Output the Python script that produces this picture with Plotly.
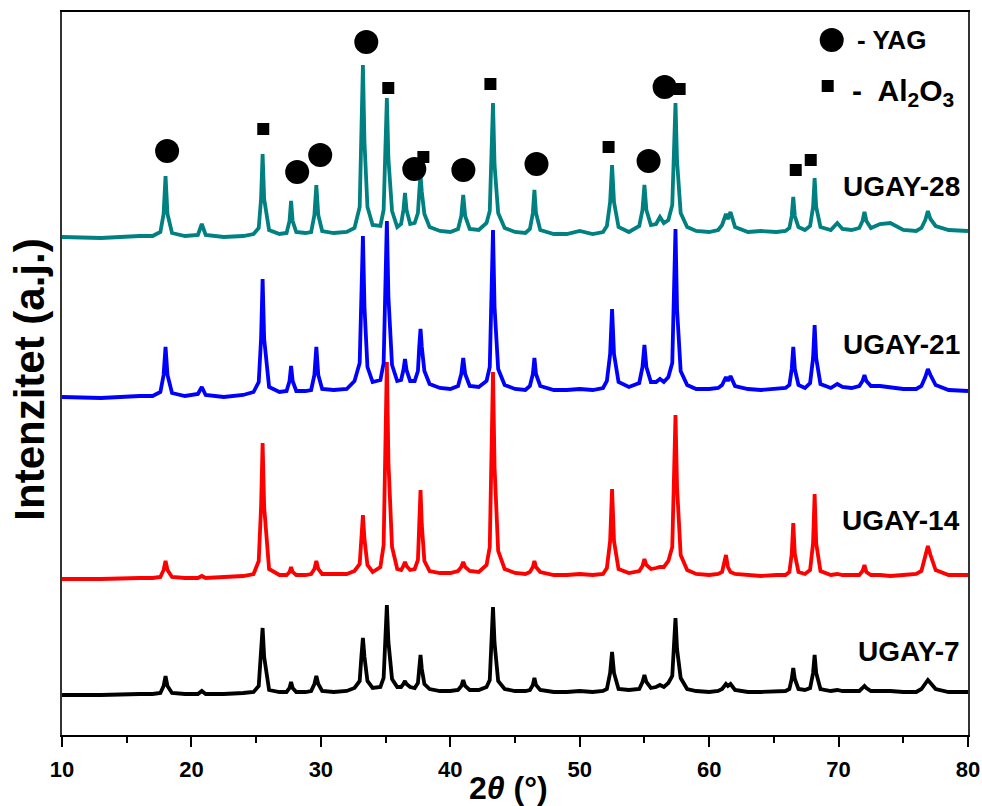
import plotly.graph_objects as go

# 2theta grid, grouped peak by peak
two_theta = [
    10, 13, 16, 17.0,
    17.6, 17.85, 18.0, 18.15, 18.5,
    19.5, 20.5, 20.8, 21.1, 22.5, 24.0,
    24.8, 25.2, 25.38, 25.5, 25.62, 26.0,
    26.8,
    27.35, 27.58, 27.7, 27.82, 28.1,
    28.8,
    29.25, 29.5, 29.65, 29.8, 30.1,
    31.0, 32.0,
    32.6, 33.0, 33.13, 33.25, 33.37, 33.6, 34.0,
    34.6, 34.85, 34.98, 35.1, 35.22, 35.5, 35.9,
    36.2, 36.38, 36.5, 36.62, 36.9,
    37.25, 37.5, 37.6, 37.7, 37.8, 38.0, 38.4,
    39.2, 40.0,
    40.6, 40.85, 41.0, 41.15, 41.5,
    42.2,
    42.8, 43.05, 43.18, 43.3, 43.42, 43.7, 44.2,
    45.0, 45.8,
    46.15, 46.38, 46.5, 46.62, 46.95,
    48.0, 49.0, 50.0, 51.0, 51.8,
    52.1, 52.35, 52.5, 52.65, 53.0,
    53.8,
    54.6, 54.85, 55.0, 55.15, 55.5,
    55.9, 56.2, 56.5,
    56.85, 57.15, 57.28, 57.4, 57.52, 57.8, 58.3,
    59.0, 60.0, 60.7,
    61.0, 61.3, 61.45, 61.65, 62.0,
    63.0, 64.0, 65.2, 65.9,
    66.2, 66.38, 66.5, 66.62, 66.9,
    67.4,
    67.8, 68.03, 68.15, 68.27, 68.6,
    69.4, 69.9, 70.3, 71.0,
    71.6, 71.85, 72.0, 72.15, 72.5,
    73.2, 74.0, 75.0, 76.0,
    76.4, 76.7, 76.9, 77.1, 77.5,
    78.5, 79.3, 80.0,
]

# intensities (offset, arbitrary units)
ugay_28 = [
    500, 499, 501, 501,
    505, 523, 561, 523, 504,
    501, 502, 513, 502, 500, 501,
    503, 509, 538, 583, 538, 507,
    503,
    504, 516, 536, 516, 505,
    504,
    505, 522, 552, 522, 506,
    504, 505,
    509, 530, 595, 672, 595, 530, 512,
    511, 527, 578, 639, 578, 526, 510,
    513, 527, 544, 527, 513,
    514, 524, 545, 562, 545, 523, 510,
    506, 505,
    508, 521, 542, 521, 508,
    507,
    514, 526, 572, 634, 572, 524, 509,
    505, 504,
    508, 524, 547, 524, 507,
    503, 503, 506, 503, 505,
    511, 535, 572, 535, 510,
    505,
    511, 527, 552, 527, 512,
    513, 520, 514,
    517, 532, 578, 634, 576, 524, 510,
    506, 505, 507,
    512, 523, 518, 525, 510,
    505, 506, 505, 506,
    509, 521, 540, 521, 510,
    507,
    511, 530, 559, 530, 510,
    507, 514, 508, 507,
    509, 516, 525, 516, 509,
    513, 514, 507, 506,
    509, 517, 526, 518, 511,
    507, 506, 506,
]

ugay_21 = [
    340, 339, 341, 341,
    345, 362, 390, 362, 344,
    341, 343, 350, 342, 340, 342,
    345, 355, 398, 458, 398, 350,
    345,
    346, 356, 371, 356, 346,
    346,
    347, 362, 390, 362, 348,
    347, 348,
    356, 374, 430, 501, 430, 370, 355,
    357, 374, 440, 516, 440, 372, 356,
    357, 367, 378, 367, 356,
    356, 366, 390, 408, 390, 366, 353,
    349, 348,
    351, 363, 379, 363, 351,
    350,
    356, 370, 430, 507, 430, 368, 352,
    348, 347,
    351, 363, 379, 363, 351,
    347, 347, 348, 347, 349,
    356, 383, 428, 383, 355,
    350,
    354, 370, 392, 370, 355,
    355, 358, 355,
    360, 374, 430, 508, 428, 366, 352,
    348, 348, 349,
    352, 360, 356, 361, 351,
    348, 347, 348, 349,
    352, 368, 390, 368, 352,
    349,
    354, 379, 412, 379, 353,
    349, 353, 350, 349,
    351, 356, 362, 356, 351,
    351, 350, 348, 348,
    351, 360, 368, 362, 352,
    347, 346, 346,
]

ugay_14 = [
    158, 158, 159, 159,
    160, 167, 176, 167, 160,
    159, 159, 161, 159, 160, 161,
    163, 176, 230, 294, 230, 168,
    162,
    162, 165, 170, 165, 162,
    162,
    163, 168, 176, 168, 163,
    163, 163,
    166, 173, 198, 222, 198, 172, 165,
    170, 192, 275, 375, 275, 190, 168,
    167, 171, 175, 171, 167,
    168, 177, 212, 247, 212, 176, 166,
    164, 164,
    166, 170, 175, 170, 166,
    165,
    172, 190, 270, 365, 270, 186, 168,
    164, 163,
    165, 170, 176, 170, 165,
    162, 162, 163, 162, 163,
    169, 196, 248, 196, 168,
    164,
    166, 171, 178, 172, 168,
    169, 170, 170,
    176, 190, 250, 322, 250, 182, 167,
    163, 162, 163,
    165, 182, 170, 165, 163,
    162, 161, 162, 162,
    165, 183, 214, 183, 165,
    163,
    167, 194, 243, 194, 166,
    162, 163, 162, 162,
    162, 166, 172, 165, 162,
    162, 161, 162, 163,
    166, 180, 191, 182, 167,
    162, 162, 162,
]

ugay_7 = [
    42, 42, 43, 43,
    44, 51, 61, 51, 44,
    43, 43, 46, 43, 43, 44,
    45, 51, 80, 109, 80, 47,
    45,
    45, 49, 55, 49, 45,
    45,
    46, 53, 61, 53, 46,
    45, 46,
    49, 56, 80, 99, 80, 56, 49,
    50, 59, 95, 132, 95, 58, 50,
    50, 53, 56, 53, 50,
    49, 54, 68, 82, 68, 53, 48,
    46, 46,
    47, 51, 57, 51, 47,
    47,
    50, 57, 94, 130, 94, 56, 48,
    46, 46,
    47, 52, 59, 52, 47,
    45, 45, 46, 45, 46,
    48, 64, 85, 64, 48,
    47,
    48, 55, 62, 55, 49,
    50, 52, 50,
    54, 61, 88, 119, 88, 59, 48,
    46, 45, 46,
    48, 53, 51, 53, 47,
    45, 45, 46, 46,
    48, 58, 69, 58, 48,
    47,
    49, 64, 82, 64, 48,
    46, 47, 46, 46,
    46, 49, 51, 49, 46,
    46, 46, 45, 45,
    48, 53, 57, 54, 48,
    45, 45, 45,
]

# phase markers
yag_x = [18.12, 28.17, 29.95, 33.51, 37.22, 41.01, 46.66, 55.32, 56.56]
yag_y = [586, 565, 582, 695, 568, 567, 573, 576, 650]
al2o3_x = [25.55, 35.21, 37.92, 43.10, 52.23, 57.72, 66.69, 67.85]
al2o3_y = [608, 649, 580, 653, 590, 648, 567, 577]

samples = ['UGAY-7', 'UGAY-14', 'UGAY-21', 'UGAY-28']
series = [ugay_7, ugay_14, ugay_21, ugay_28]
colors = ['#000000', '#FF0000', '#0000FF', '#008080']
label_y = [86, 217, 393, 551]

BOLD = 'Liberation Sans, Arial, sans-serif'

fig = go.Figure()

for name, ys, c in zip(samples, series, colors):
    fig.add_trace(go.Scatter(x=two_theta, y=ys, mode='lines', name=name,
                             line=dict(color=c, width=3.8), showlegend=False))

fig.add_trace(go.Scatter(x=yag_x, y=yag_y, mode='markers', showlegend=False,
                         marker=dict(symbol='circle', size=24, color='black')))
fig.add_trace(go.Scatter(x=al2o3_x, y=al2o3_y, mode='markers', showlegend=False,
                         marker=dict(symbol='square', size=12, color='black')))

# legend drawn by hand
fig.add_trace(go.Scatter(x=[69.47], y=[697], mode='markers', showlegend=False,
                         marker=dict(symbol='circle', size=24, color='black')))
fig.add_trace(go.Scatter(x=[69.16], y=[651], mode='markers', showlegend=False,
                         marker=dict(symbol='square', size=12, color='black')))
fig.add_annotation(x=71.3, y=697, xref='x', yref='y', text='<b>- YAG</b>',
                   showarrow=False, xanchor='left', yanchor='middle',
                   font=dict(family=BOLD, size=26, color='black'))
fig.add_annotation(x=70.9, y=645, xref='x', yref='y',
                   text='<b>-  Al<sub>2</sub>O<sub>3</sub></b>',
                   showarrow=False, xanchor='left', yanchor='middle',
                   font=dict(family=BOLD, size=30, color='black'))

for name, ly in zip(samples, label_y):
    fig.add_annotation(x=79.5, y=ly, xref='x', yref='y', text='<b>' + name + '</b>',
                       showarrow=False, xanchor='right', yanchor='middle',
                       font=dict(family=BOLD, size=28, color='black'))

# axis titles
fig.add_annotation(x=0.493, y=-0.0733, xref='paper', yref='paper',
                   text='<b>2</b><b><i>θ</i></b><b> (°)</b>', showarrow=False,
                   xanchor='center', yanchor='middle',
                   font=dict(family=BOLD, size=32, color='black'))
fig.add_annotation(x=-0.036, y=0.492, xref='paper', yref='paper',
                   text='<b>Intenzitet (a.j.)</b>', showarrow=False, textangle=-90,
                   xanchor='center', yanchor='middle',
                   font=dict(family=BOLD, size=42, color='black'))

fig.update_layout(
    width=982, height=806,
    margin=dict(l=62, r=14, t=12, b=71),
    plot_bgcolor='white', paper_bgcolor='white',
    xaxis=dict(
        range=[10, 80], dtick=10, tick0=10, automargin=False,
        ticks='outside', ticklen=10, tickwidth=2, tickcolor='black',
        ticklabelstandoff=4,
        minor=dict(dtick=5, ticks='outside', ticklen=6, tickwidth=2, tickcolor='black'),
        showline=True, linecolor='black', linewidth=2, mirror=True,
        showgrid=False, zeroline=False,
        tickfont=dict(family=BOLD, size=22, color='black', weight='bold'),
    ),
    yaxis=dict(
        range=[2, 725], showticklabels=False, ticks='', automargin=False,
        showline=True, linecolor='#333333', linewidth=2, mirror=True,
        showgrid=False, zeroline=False,
    ),
)

# drop the default page margin so the figure fills the window exactly
fig.write_html('out.html', config={'displayModeBar': False},
               post_script="document.body.style.margin='0';document.body.style.overflow='hidden';")
